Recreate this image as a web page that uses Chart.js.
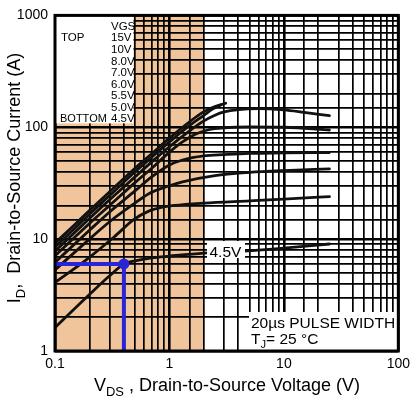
<!DOCTYPE html>
<html>
<head>
<meta charset="utf-8">
<script src="https://cdn.jsdelivr.net/npm/chart.js@4/dist/chart.umd.min.js"></script>
<style>
html,body{margin:0;padding:0;background:#fff;}
#wrap{width:415px;height:399px;position:relative;}
</style>
</head>
<body>
<div id="wrap"><canvas id="c" width="415" height="399"></canvas></div>
<script>
// ---- data ----
const seriesLabels = ['15V', '10V', '8.0V', '7.0V', '6.0V', '5.5V', '5.0V', '4.5V'];

const vds_15V = [0.1, 0.15, 0.2, 0.3, 0.5, 0.7, 1.0, 1.5, 2.0, 2.5, 3.1];
const id_15V  = [9.2, 13.6, 18, 26.5, 43, 58, 80, 112, 138, 153, 164];
const vds_10V = [0.1, 0.15, 0.2, 0.3, 0.5, 0.7, 1.0, 1.5, 2.0, 2.4, 2.8];
const id_10V  = [8.5, 12.6, 16.7, 24.5, 40, 54, 74, 104, 128, 146, 158];
const vds_8V  = [0.1, 0.2, 0.3, 0.5, 0.7, 1.0, 1.5, 2.0, 2.5, 3.0, 4.0, 6.0, 10, 15, 25];
const id_8V   = [7.8, 15.3, 22.5, 36, 49, 67, 93, 114, 128, 137, 144, 147, 143, 136, 127];
const vds_7V  = [0.1, 0.2, 0.3, 0.5, 0.7, 1.0, 1.3, 1.7, 2.2, 3.0, 5.0, 10, 18, 25];
const id_7V   = [7.1, 13.8, 20, 32, 43, 60, 74, 87, 95, 99, 101, 100, 97, 94.5];
const vds_6V  = [0.1, 0.2, 0.3, 0.5, 0.7, 1.0, 1.3, 2.0, 3.0, 5.0, 10, 25];
const id_6V   = [6.2, 12, 17.5, 27, 36, 46, 51, 55.5, 57, 58.5, 59, 59.5];
const vds_55V = [0.1, 0.2, 0.3, 0.5, 0.66, 1.0, 1.3, 2.5, 5.0, 10, 25];
const id_55V  = [5.3, 10, 14.3, 21, 25.5, 30, 32.5, 37, 39.5, 41, 42.4];
const vds_5V  = [0.1, 0.19, 0.33, 0.49, 0.66, 0.85, 1.1, 2.0, 5.0, 10, 25];
const id_5V   = [4.1, 6.6, 10.5, 15, 17.8, 19.2, 20, 21, 22, 22.8, 24];
const vds_45V = [0.1, 0.2, 0.3, 0.4, 0.5, 0.7, 1.0, 2.0, 4.4, 10, 25];
const id_45V  = [1.62, 3.2, 4.7, 6.0, 6.4, 6.8, 7.05, 7.5, 7.8, 8.3, 9.05];

// blue operating-point marker
const markerVDS = [0.1, 0.4, 0.4];
const markerID  = [6, 6, 1];

// axis ranges and decade tick labels
const xRange = [0.1, 100];
const yRange = [1, 1000];
const xTickLabels = ['0.1', '1', '10', '100'];
const yTickLabels = ['1', '10', '100', '1000'];
const shadeMaxVDS = 2;

// ---- build ----
const allVds = [vds_15V, vds_10V, vds_8V, vds_7V, vds_6V, vds_55V, vds_5V, vds_45V];
const allId  = [id_15V, id_10V, id_8V, id_7V, id_6V, id_55V, id_5V, id_45V];
const FONT = "'Liberation Sans', Arial, Helvetica, sans-serif";
const SHADE = '#F1C59B';
const BLUE = '#2A24D8';

const zip = (xs, ys) => xs.map((v, i) => ({x: v, y: ys[i]}));

const datasets = [{
  label: 'marker',
  data: zip(markerVDS, markerID),
  borderColor: BLUE,
  backgroundColor: BLUE,
  borderWidth: 4,
  pointRadius: ctx => ctx.dataIndex === 1 ? 5.5 : 0,
  pointBorderWidth: 0,
  tension: 0,
  order: 0
}];
seriesLabels.forEach((lab, i) => {
  datasets.push({
    label: lab,
    data: zip(allVds[i], allId[i]),
    borderColor: '#111',
    borderWidth: 2.8,
    pointRadius: 0,
    cubicInterpolationMode: 'monotone',
    borderCapStyle: 'round',
    order: 1
  });
});

const isDecade = v => Math.abs(Math.log10(v) - Math.round(Math.log10(v))) < 1e-6;
const labelFor = (v, list) => {
  if (!isDecade(v)) return '';
  const s = list.find(t => Math.abs(parseFloat(t) - v) < 1e-9 * Math.max(1, v));
  return s === undefined ? '' : s;
};
const gridWidth = ctx => (ctx.tick && isDecade(ctx.tick.value)) ? 2.6 : 1.7;

function drawRich(ctx, parts, size) {
  let w = 0;
  parts.forEach(p => {
    ctx.font = (p[1] ? size * 0.72 : size) + 'px ' + FONT;
    w += ctx.measureText(p[0]).width;
  });
  return w;
}
function paintRich(ctx, parts, size, x, y) {
  let cx = x;
  parts.forEach(p => {
    ctx.font = (p[1] ? size * 0.72 : size) + 'px ' + FONT;
    ctx.fillText(p[0], cx, p[1] ? y + size * 0.28 : y);
    cx += ctx.measureText(p[0]).width;
  });
}

const annot = {
  id: 'annot',
  beforeDraw(chart) {
    const {ctx, chartArea: a, scales: {x}} = chart;
    ctx.save();
    ctx.fillStyle = '#fff';
    ctx.fillRect(0, 0, chart.width, chart.height);
    ctx.fillStyle = SHADE;
    const x2 = x.getPixelForValue(shadeMaxVDS);
    ctx.fillRect(a.left, a.top, x2 - a.left, a.bottom - a.top);
    ctx.restore();
  },
  afterDatasetsDraw(chart) {
    const {ctx, chartArea: a, scales: {x}} = chart;
    ctx.save();
    // legend box
    const bx2 = x.getPixelForValue(0.5) - 1.5;
    ctx.fillStyle = '#fff';
    ctx.fillRect(a.left, a.top, bx2 - a.left, 108);
    ctx.fillStyle = '#000';
    ctx.font = '11.5px ' + FONT;
    ctx.textBaseline = 'alphabetic';
    const lx = a.left + 56, ly0 = a.top + 14.5, dy = 11.55;
    ctx.fillText('VGS', lx, ly0);
    ctx.fillText('TOP', a.left + 6, ly0 + dy);
    seriesLabels.forEach((s, i) => ctx.fillText(s, lx, ly0 + dy * (i + 1)));
    ctx.font = '11px ' + FONT;
    ctx.fillText('BOTTOM', a.left + 5, ly0 + dy * 8);

    // 4.5V label
    ctx.fillStyle = '#fff';
    ctx.fillRect(207, 241, 38, 17);
    ctx.fillStyle = '#000';
    ctx.font = '15.5px ' + FONT;
    ctx.fillText('4.5V', 209.5, 257);

    // condition box
    ctx.fillStyle = '#fff';
    ctx.fillRect(249, 312, a.right - 249, a.bottom - 312);
    ctx.fillStyle = '#000';
    ctx.font = '15.5px ' + FONT;
    ctx.fillText('20\u00B5s PULSE WIDTH', 251, 328);
    paintRich(ctx, [['T', false], ['J', true], ['= 25 \u00B0C', false]], 15.5, 251, 344);
    ctx.restore();
  },
  afterDraw(chart) {
    const {ctx, chartArea: a} = chart;
    ctx.save();
    ctx.strokeStyle = '#000';
    ctx.lineWidth = 3;
    ctx.strokeRect(a.left, a.top, a.right - a.left, a.bottom - a.top);
    ctx.fillStyle = '#000';
    ctx.textBaseline = 'alphabetic';
    const xp = [['V', false], ['DS', true], [' , Drain-to-Source Voltage (V)', false]];
    const xw = drawRich(ctx, xp, 18);
    paintRich(ctx, xp, 18, 227 - xw / 2, 391);
    const yp = [['I', false], ['D', true], [',  Drain-to-Source Current (A)', false]];
    const yw = drawRich(ctx, yp, 18);
    ctx.translate(20, 178);
    ctx.rotate(-Math.PI / 2);
    paintRich(ctx, yp, 18, -yw / 2, 0);
    ctx.restore();
  }
};

new Chart(document.getElementById('c'), {
  type: 'line',
  data: {datasets},
  options: {
    responsive: false,
    animation: false,
    layout: {padding: {top: 5, right: 13, left: 0, bottom: 0}},
    plugins: {legend: {display: false}, tooltip: {enabled: false}},
    scales: {
      x: {
        type: 'logarithmic',
        min: xRange[0], max: xRange[1],
        afterFit: s => { s.height = 48; },
        grid: {color: '#000', lineWidth: gridWidth, drawTicks: false},
        border: {display: false},
        ticks: {
          autoSkip: false, maxRotation: 0, padding: 5,
          color: '#000', font: {family: FONT, size: 14},
          callback: v => labelFor(v, xTickLabels)
        }
      },
      y: {
        type: 'logarithmic',
        min: yRange[0], max: yRange[1],
        afterFit: s => { s.width = 55; },
        grid: {color: '#000', lineWidth: gridWidth, drawTicks: false},
        border: {display: false},
        ticks: {
          autoSkip: false, padding: 7,
          color: '#000', font: {family: FONT, size: 14},
          callback: v => labelFor(v, yTickLabels)
        }
      }
    }
  },
  plugins: [annot]
});
</script>
</body>
</html>
